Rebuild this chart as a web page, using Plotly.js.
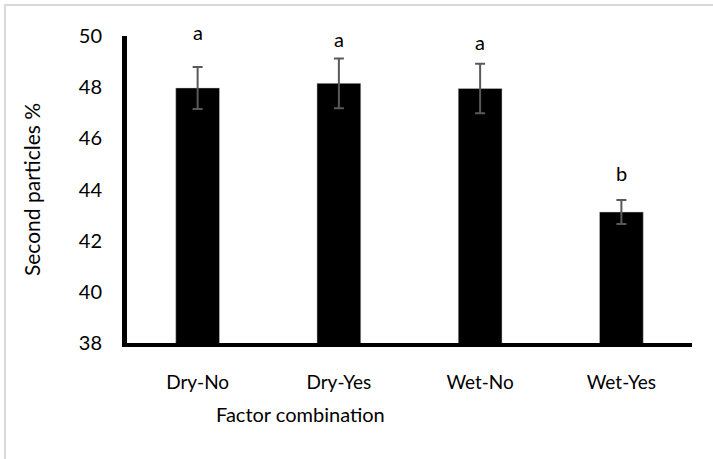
<!DOCTYPE html>
<html>
<head>
<meta charset="utf-8">
<script src="https://cdn.plot.ly/plotly-3.0.1.min.js"></script>
<style>
html,body{margin:0;padding:0;background:#fff;}
#frame{position:absolute;left:4px;top:4px;width:800px;height:600px;border-left:2px solid #d9d9d9;border-top:2px solid #d9d9d9;}
#chart{position:absolute;left:0;top:0;width:713px;height:459px;}
</style>
</head>
<body>
<div id="frame"></div>
<div id="chart"></div>
<script>
const categories = ["Dry-No", "Dry-Yes", "Wet-No", "Wet-Yes"];
const means = [47.97, 48.15, 47.95, 43.12];
const errors = [0.82, 0.97, 0.97, 0.47];
const letters = ["a", "a", "a", "b"];
const letterY = [50.15, 49.9, 49.78, 44.66];
const yTicks = [38, 40, 42, 44, 46, 48, 50];
const yRange = [38, 50];

const font = "Lato, 'Open Sans', sans-serif";

const trace = {
  type: "bar",
  x: categories,
  y: means,
  marker: {color: "#000000", line: {color: "#d0d0d0", width: 0.5}},
  error_y: {type: "data", array: errors, visible: true, color: "#595959", thickness: 2, width: 5},
  hoverinfo: "none"
};

const annotations = categories.map((c, i) => ({
  x: c, y: (letterY[i] - yRange[0]) / (yRange[1] - yRange[0]), xref: "x", yref: "paper",
  text: letters[i], showarrow: false, yanchor: "middle",
  font: {family: font, size: 20, color: "#000"}
}));
annotations.push({
  xref: "paper", yref: "paper", x: (300 - 127) / 565, y: -(414 - 343) / 307,
  text: "Factor combination", showarrow: false, xanchor: "center", yanchor: "middle",
  font: {family: font, size: 20, color: "#000"}
});

const layout = {
  width: 713, height: 459,
  margin: {l: 127, r: 21, t: 36, b: 116},
  paper_bgcolor: "rgba(0,0,0,0)",
  plot_bgcolor: "rgba(0,0,0,0)",
  showlegend: false,
  bargap: 0.69,
  xaxis: {
    showline: true, linecolor: "#000", linewidth: 4,
    ticks: "outside", ticklen: 19, tickcolor: "rgba(0,0,0,0)",
    tickfont: {family: font, size: 19, color: "#000"},
    showgrid: false, zeroline: false
  },
  yaxis: {
    range: yRange, tickvals: yTicks, ticktext: yTicks.map(String),
    showline: true, linecolor: "#000", linewidth: 5,
    ticks: "outside", ticklen: 16, tickcolor: "rgba(0,0,0,0)",
    tickfont: {family: font, size: 20, color: "#000"},
    showgrid: false, zeroline: false,
    title: {text: "Second particles %", font: {family: font, size: 21, color: "#000"}, standoff: 34}
  },
  annotations: annotations
};

Plotly.newPlot("chart", [trace], layout, {displayModeBar: false, staticPlot: true});
</script>
</body>
</html>
